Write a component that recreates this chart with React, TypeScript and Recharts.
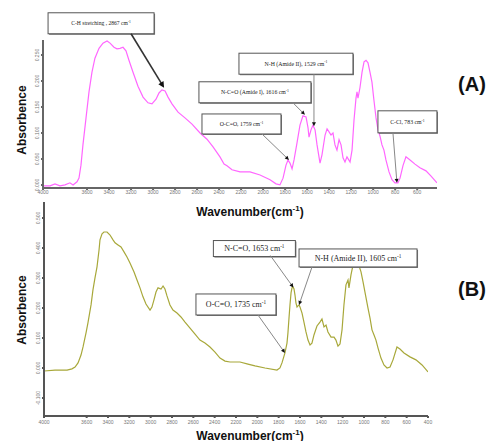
import React from 'react'
import { LineChart, Line, XAxis, YAxis, ReferenceDot } from 'recharts'

// (A) spectrum
const waveA = [4000, 3936, 3891, 3846, 3800, 3755, 3727, 3691, 3673, 3655, 3637, 3609, 3582, 3555, 3528, 3491, 3455, 3418, 3391, 3355, 3328, 3300, 3273, 3246, 3219, 3182, 3137, 3091, 3046, 3010, 2973, 2946, 2919, 2891, 2864, 2828, 2773, 2710, 2646, 2573, 2510, 2455, 2392, 2355, 2328, 2283, 2210, 2119, 2028, 1937, 1883, 1847, 1819, 1792, 1774, 1756, 1737, 1719, 1692, 1665, 1638, 1610, 1592, 1583, 1565, 1547, 1528, 1510, 1483, 1465, 1437, 1419, 1401, 1383, 1365, 1347, 1329, 1310, 1292, 1274, 1256, 1238, 1210, 1192, 1174, 1156, 1147, 1138, 1120, 1101, 1083, 1065, 1047, 1029, 1011, 993, 974, 956, 938, 920, 902, 884, 856, 829, 802, 775, 756, 729, 702, 665, 620, 575, 520, 474, 420]
const absA = [-0.002, -0.002, 0.002, -0.002, 0, 0.004, 0, 0.006, 0.013, 0.038, 0.077, 0.129, 0.179, 0.217, 0.244, 0.263, 0.273, 0.277, 0.273, 0.265, 0.262, 0.263, 0.265, 0.258, 0.24, 0.217, 0.19, 0.169, 0.158, 0.156, 0.165, 0.177, 0.183, 0.181, 0.169, 0.156, 0.14, 0.129, 0.117, 0.1, 0.088, 0.073, 0.054, 0.04, 0.037, 0.029, 0.025, 0.025, 0.019, 0.01, 0.002, 0, 0.013, 0.038, 0.048, 0.042, 0.031, 0.048, 0.081, 0.115, 0.133, 0.131, 0.11, 0.092, 0.106, 0.115, 0.106, 0.077, 0.042, 0.058, 0.096, 0.108, 0.102, 0.096, 0.1, 0.077, 0.067, 0.087, 0.077, 0.052, 0.044, 0.054, 0.044, 0.067, 0.125, 0.167, 0.179, 0.167, 0.187, 0.217, 0.237, 0.24, 0.235, 0.217, 0.198, 0.163, 0.129, 0.106, 0.094, 0.077, 0.067, 0.048, 0.025, 0.01, 0.004, 0.004, 0.013, 0.037, 0.054, 0.048, 0.04, 0.033, 0.027, 0.017, 0.004]

// (B) spectrum
const waveB = [4000, 3897, 3784, 3738, 3709, 3681, 3653, 3634, 3606, 3588, 3559, 3541, 3522, 3503, 3484, 3475, 3456, 3438, 3409, 3381, 3353, 3334, 3306, 3278, 3250, 3222, 3194, 3156, 3128, 3100, 3072, 3044, 3006, 2988, 2969, 2950, 2931, 2903, 2884, 2866, 2847, 2819, 2791, 2753, 2716, 2678, 2631, 2584, 2538, 2491, 2444, 2397, 2350, 2303, 2256, 2163, 2088, 2022, 1928, 1816, 1788, 1769, 1741, 1722, 1713, 1703, 1694, 1684, 1675, 1666, 1656, 1647, 1638, 1628, 1619, 1609, 1600, 1581, 1563, 1544, 1525, 1506, 1488, 1469, 1441, 1413, 1394, 1375, 1356, 1338, 1309, 1281, 1263, 1244, 1225, 1206, 1188, 1169, 1150, 1141, 1122, 1103, 1084, 1066, 1047, 1028, 1009, 991, 963, 944, 925, 906, 888, 869, 841, 813, 784, 756, 728, 691, 663, 625, 569, 513, 456, 400]
const absB = [-0.01, -0.007, -0.007, -0.003, 0.003, 0.017, 0.043, 0.07, 0.117, 0.15, 0.21, 0.26, 0.3, 0.337, 0.393, 0.427, 0.447, 0.453, 0.453, 0.443, 0.427, 0.417, 0.41, 0.403, 0.387, 0.37, 0.35, 0.32, 0.293, 0.267, 0.237, 0.213, 0.193, 0.203, 0.227, 0.253, 0.267, 0.263, 0.273, 0.263, 0.24, 0.21, 0.193, 0.183, 0.17, 0.153, 0.133, 0.113, 0.093, 0.083, 0.07, 0.053, 0.033, 0.023, 0.02, 0.02, 0.013, 0.007, 0, -0.007, 0, 0.017, 0.05, 0.083, 0.117, 0.167, 0.21, 0.25, 0.267, 0.27, 0.263, 0.243, 0.217, 0.203, 0.207, 0.21, 0.203, 0.183, 0.153, 0.12, 0.093, 0.077, 0.083, 0.11, 0.14, 0.153, 0.163, 0.137, 0.143, 0.12, 0.103, 0.103, 0.093, 0.073, 0.08, 0.127, 0.21, 0.277, 0.293, 0.267, 0.31, 0.343, 0.353, 0.347, 0.34, 0.32, 0.287, 0.253, 0.2, 0.167, 0.127, 0.11, 0.093, 0.067, 0.033, 0.01, 0, 0.003, 0.027, 0.07, 0.063, 0.05, 0.037, 0.027, 0.01, -0.013]

const ticksXA = [4000, 3600, 3400, 3200, 3000, 2800, 2600, 2400, 2200, 2000, 1800, 1600, 1400, 1200, 1000, 800, 600]
const ticksXB = [4000, 3600, 3400, 3200, 3000, 2800, 2600, 2400, 2200, 2000, 1800, 1600, 1400, 1200, 1000, 800, 600, 400]
const ticksYA = [0, 0.05, 0.1, 0.15, 0.2, 0.25]
const ticksYB = [-0.1, 0, 0.1, 0.2, 0.3, 0.4, 0.5]

// peak labels: name, wavenumber, absorbance at the arrow tip
const notesA = [
  { text: 'C-H stretching , 2867 cm', wn: 2900, y: 0.187 },
  { text: 'N-H (Amide II), 1529 cm', wn: 1538, y: 0.113 },
  { text: 'N-C=O (Amide I), 1616 cm', wn: 1620, y: 0.135 },
  { text: 'O-C=O, 1759 cm', wn: 1765, y: 0.048 },
  { text: 'C-Cl, 783 cm', wn: 784, y: 0.004 },
]
const notesB = [
  { text: 'N-C=O, 1653 cm', wn: 1662, y: 0.268 },
  { text: 'N-H (Amide II), 1605 cm', wn: 1609, y: 0.21 },
  { text: 'O-C=O, 1735 cm', wn: 1741, y: 0.05 },
]

// box placement relative to arrow tip
const layoutA = [
  { dx: -116, dy: -75, w: 106, h: 21, sx: -33, sy: -54, fs: 5.6, bold: true },
  { dx: -75, dy: -73, w: 114, h: 21, sx: 0, sy: -52, fs: 5.8 },
  { dx: -106, dy: -33, w: 112, h: 21, sx: -12, sy: -12, fs: 5.8 },
  { dx: -87, dy: -46, w: 79, h: 20, sx: -27, sy: -26, fs: 5.8 },
  { dx: -19, dy: -72, w: 59, h: 22, sx: -4, sy: -50, fs: 5.8 },
]
const layoutB = [
  { dx: -80, dy: -47, w: 82, h: 16, sx: -23, sy: -32, fs: 8 },
  { dx: 0, dy: -56, w: 118, h: 18, sx: 13, sy: -38, fs: 8 },
  { dx: -89, dy: -59, w: 80, h: 21, sx: -27, sy: -38, fs: 8 },
]

const dataA = waveA.map((wn, i) => ({ wn, abs: absA[i] }))
const dataB = waveB.map((wn, i) => ({ wn, abs: absB[i] }))

const makeNote = (text: string, l: any) => (props: any) => {
  const { cx, cy } = props
  const bx = cx + l.dx
  const by = cy + l.dy
  const x1 = cx + l.sx
  const y1 = cy + l.sy
  const ang = Math.atan2(cy - y1, cx - x1)
  const hs = l.bold ? 6 : 4
  const hw = l.bold ? 3 : 2
  const p1 = [cx - hs * Math.cos(ang) + hw * Math.sin(ang), cy - hs * Math.sin(ang) - hw * Math.cos(ang)]
  const p2 = [cx - hs * Math.cos(ang) - hw * Math.sin(ang), cy - hs * Math.sin(ang) + hw * Math.cos(ang)]
  return (
    <g>
      <rect x={bx + 1} y={by + 1} width={l.w} height={l.h} fill="#777" />
      <rect x={bx} y={by} width={l.w} height={l.h} fill="#fff" stroke="#555" strokeWidth={1} />
      <text
        x={bx + l.w / 2}
        y={by + l.h / 2 + l.fs * 0.35}
        textAnchor="middle"
        fontFamily="'Liberation Serif', serif"
        fontSize={l.fs}
        fill="#222"
      >
        {text}
        <tspan fontSize={l.fs * 0.65} dy={-l.fs * 0.4}>-1</tspan>
      </text>
      <line x1={x1} y1={y1} x2={cx - hs * 0.8 * Math.cos(ang)} y2={cy - hs * 0.8 * Math.sin(ang)} stroke={l.bold ? '#333' : '#888'} strokeWidth={l.bold ? 1.6 : 1} />
      <polygon points={`${cx},${cy} ${p1[0]},${p1[1]} ${p2[0]},${p2[1]}`} fill="#111" />
    </g>
  )
}

const XTick = (offset: number) => (props: any) => {
  const { x, y, payload } = props
  return (
    <text x={x} y={y + offset} textAnchor="middle" fontSize={5} fontFamily="'Liberation Sans', sans-serif" fill="#777">
      {payload.value}
    </text>
  )
}

const YTick = (props: any) => {
  const { x, y, payload } = props
  return (
    <text x={x} y={y} transform={`rotate(-90, ${x}, ${y})`} textAnchor="middle" fontSize={5} fontFamily="'Liberation Sans', sans-serif" fill="#777">
      {payload.value.toFixed(3)}
    </text>
  )
}

const titleStyle: React.CSSProperties = {
  position: 'absolute',
  fontFamily: "'Liberation Sans', Arial, sans-serif",
  fontWeight: 'bold',
  fontSize: 12,
  color: '#111',
  whiteSpace: 'nowrap',
}

export default function App() {
  return (
    <div style={{ position: 'absolute', left: 0, top: 0, width: 491, height: 441, background: '#fff', overflow: 'hidden' }}>
      <div style={{ position: 'absolute', left: 0, top: 0 }}>
        <LineChart width={491} height={200} data={dataA} margin={{ top: 40, right: 54, bottom: 0, left: 0 }}>
          <XAxis
            dataKey="wn"
            type="number"
            domain={[420, 4000]}
            reversed
            allowDataOverflow
            ticks={ticksXA}
            interval={0}
            height={12}
            tickSize={2}
            tickMargin={0}
            stroke="#666"
            strokeWidth={2}
            tick={XTick(4)}
          />
          <YAxis
            type="number"
            domain={[-0.006, 0.279]}
            allowDataOverflow
            ticks={ticksYA}
            interval={0}
            width={43}
            tickSize={2}
            tickMargin={2}
            stroke="#666"
            strokeWidth={2}
            tick={YTick}
          />
          <Line dataKey="abs" stroke="#ff66ff" strokeWidth={1.2} dot={false} isAnimationActive={false} />
          {notesA.map((n, i) => (
            <ReferenceDot key={i} x={n.wn} y={n.y} r={0} ifOverflow="visible" shape={makeNote(n.text, layoutA[i])} />
          ))}
        </LineChart>
      </div>
      <div style={{ position: 'absolute', left: 0, top: 200 }}>
        <LineChart width={491} height={241} data={dataB} margin={{ top: 2, right: 63, bottom: 0, left: 0 }}>
          <XAxis
            dataKey="wn"
            type="number"
            domain={[400, 4000]}
            reversed
            allowDataOverflow
            ticks={ticksXB}
            interval={0}
            height={25}
            tickSize={2}
            tickMargin={0}
            stroke="#555"
            strokeWidth={2}
            tick={XTick(6)}
          />
          <YAxis
            type="number"
            domain={[-0.16, 0.553]}
            allowDataOverflow
            ticks={ticksYB}
            interval={0}
            width={44}
            tickSize={2}
            tickMargin={2}
            stroke="#555"
            strokeWidth={2}
            tick={YTick}
          />
          <Line dataKey="abs" stroke="#a8a83a" strokeWidth={1.2} dot={false} isAnimationActive={false} />
          {notesB.map((n, i) => (
            <ReferenceDot key={i} x={n.wn} y={n.y} r={0} ifOverflow="visible" shape={makeNote(n.text, layoutB[i])} />
          ))}
        </LineChart>
      </div>
      <div style={{ ...titleStyle, left: 14, top: 120, transform: 'translate(-50%, -50%) rotate(-90deg)', transformOrigin: 'center', marginLeft: 8 }}>Absorbence</div>
      <div style={{ ...titleStyle, left: 14, top: 310, transform: 'translate(-50%, -50%) rotate(-90deg)', transformOrigin: 'center', marginLeft: 8 }}>Absorbence</div>
      <div style={{ ...titleStyle, left: 250, top: 211, transform: 'translate(-50%, -50%)' }}>
        Wavenumber(cm<sup style={{ fontSize: 8 }}>-1</sup>)
      </div>
      <div style={{ ...titleStyle, left: 250, top: 435, transform: 'translate(-50%, -50%)' }}>
        Wavenumber(cm<sup style={{ fontSize: 8 }}>-1</sup>)
      </div>
      <div style={{ ...titleStyle, fontSize: 20, left: 472, top: 84, transform: 'translate(-50%, -50%)' }}>(A)</div>
      <div style={{ ...titleStyle, fontSize: 20, left: 472, top: 289, transform: 'translate(-50%, -50%)' }}>(B)</div>
    </div>
  )
}
